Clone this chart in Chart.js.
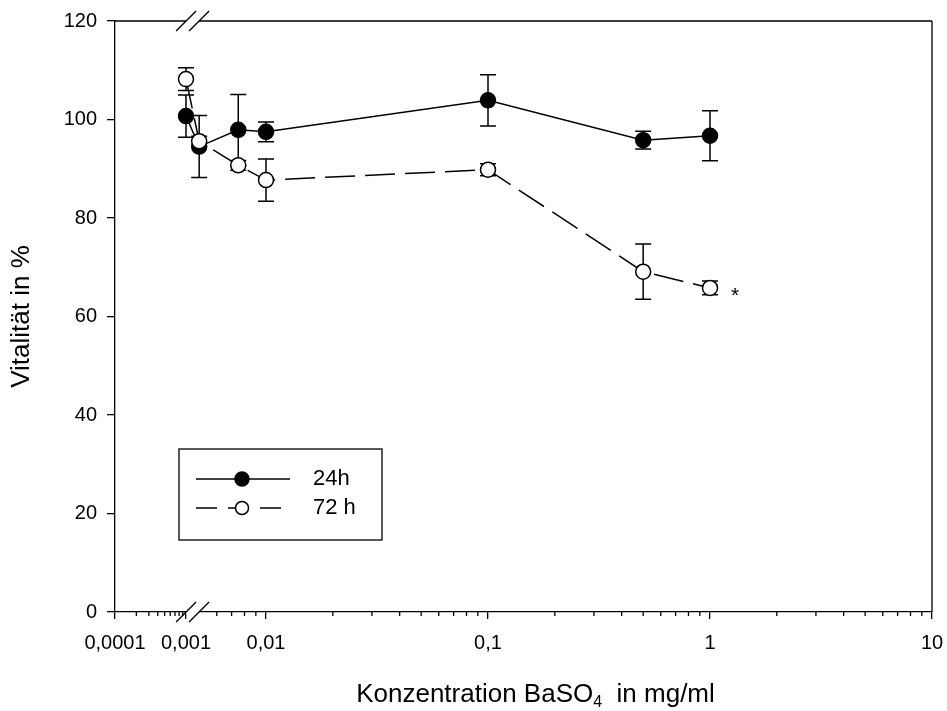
<!DOCTYPE html>
<html>
<head>
<meta charset="utf-8">
<script src="https://cdn.jsdelivr.net/npm/chart.js@4.4.1/dist/chart.umd.min.js"></script>
<style>
  body { margin: 0; background: #fff; }
  canvas { display: block; }
</style>
</head>
<body>
<canvas id="chart" width="947" height="711"></canvas>
<script>
// concentrations in mg/ml
const concentrations = [0.001, 0.005, 0.0075, 0.01, 0.1, 0.5, 1];

// Vitalität in % (mean) and error
const vital24 = [100.7, 94.5, 97.9, 97.5, 103.9, 95.8, 96.7];
const err24 = [4.3, 6.3, 7.2, 2.0, 5.2, 1.8, 5.1];
const vital72 = [108.2, 95.6, 90.7, 87.7, 89.8, 69.1, 65.8];
const err72 = [2.3, 1.0, 1.0, 4.3, 1.2, 5.6, 1.4];

const xTickValues = [0.0001, 0.001, 0.01, 0.1, 1, 10];
const xTickLabels = ['0,0001', '0,001', '0,01', '0,1', '1', '10'];
const xMinorTicks = [0.0002, 0.0003, 0.0004, 0.0005, 0.0006, 0.0007, 0.0008, 0.0009,
  0.006, 0.007, 0.008, 0.009,
  0.02, 0.03, 0.04, 0.05, 0.06, 0.07, 0.08, 0.09,
  0.2, 0.3, 0.4, 0.5, 0.6, 0.7, 0.8, 0.9,
  2, 3, 4, 5, 6, 7, 8, 9];

const seriesLabels = ['24h', '72 h'];
const FONT = '"Liberation Sans", Arial, sans-serif';

// log axis with a break: one short decade 0.0001-0.001, then 0.01-10 normal
const LEFT_DECADE = 71 / 817;
const RIGHT_DECADE = 222 / 817;
const BREAK_AT = 0.002;

function toFrac(v) {
  if (v <= BREAK_AT) return LEFT_DECADE * Math.log10(v / 0.0001);
  return 1 - RIGHT_DECADE * Math.log10(10 / v);
}
function fromFrac(f) {
  if (f <= LEFT_DECADE) return 0.0001 * Math.pow(10, f / LEFT_DECADE);
  return 10 / Math.pow(10, (1 - f) / RIGHT_DECADE);
}

class BrokenLogScale extends Chart.LogarithmicScale {
  getPixelForValue(value) {
    return this.getPixelForDecimal(toFrac(value));
  }
  getValueForPixel(pixel) {
    return fromFrac(this.getDecimalForPixel(pixel));
  }
}
BrokenLogScale.id = 'brokenLog';
BrokenLogScale.defaults = Chart.LogarithmicScale.defaults;
Chart.register(BrokenLogScale);

const errorBars = {
  id: 'errorBars',
  beforeDatasetsDraw(chart) {
    const ctx = chart.ctx;
    const y = chart.scales.y;
    const errs = [err24, err72];
    const vals = [vital24, vital72];
    ctx.save();
    ctx.strokeStyle = '#000';
    ctx.lineWidth = 1.5;
    chart.data.datasets.forEach((ds, di) => {
      const meta = chart.getDatasetMeta(di);
      meta.data.forEach((pt, i) => {
        const top = y.getPixelForValue(vals[di][i] + errs[di][i]);
        const bot = y.getPixelForValue(vals[di][i] - errs[di][i]);
        ctx.beginPath();
        ctx.moveTo(pt.x, top); ctx.lineTo(pt.x, bot);
        ctx.moveTo(pt.x - 8, top); ctx.lineTo(pt.x + 8, top);
        ctx.moveTo(pt.x - 8, bot); ctx.lineTo(pt.x + 8, bot);
        ctx.stroke();
      });
    });
    ctx.restore();
  }
};

const frame = {
  id: 'frame',
  afterDraw(chart) {
    const ctx = chart.ctx;
    const a = chart.chartArea;
    const x = chart.scales.x;
    ctx.save();
    ctx.strokeStyle = '#000';
    ctx.lineWidth = 1.3;
    // top and right border
    ctx.beginPath();
    ctx.moveTo(a.left, a.top); ctx.lineTo(a.right, a.top);
    ctx.moveTo(a.right, a.top); ctx.lineTo(a.right, a.bottom);
    ctx.stroke();
    // minor ticks
    ctx.beginPath();
    xMinorTicks.forEach(v => {
      const px = x.getPixelForValue(v);
      ctx.moveTo(px, a.bottom); ctx.lineTo(px, a.bottom + 4);
    });
    ctx.stroke();
    // axis break
    const bx = (x.getPixelForValue(0.001) + x.getPixelForValue(0.005)) / 2;
    [a.top, a.bottom].forEach(yy => {
      ctx.fillStyle = '#fff';
      ctx.fillRect(bx - 6.5, yy - 2, 13, 4);
      ctx.beginPath();
      [bx - 6.5, bx + 6.5].forEach(cx => {
        ctx.moveTo(cx - 10, yy + 10); ctx.lineTo(cx + 10, yy - 10);
      });
      ctx.stroke();
    });
    // asterisk next to last 72 h point
    const m72 = chart.getDatasetMeta(1);
    const last = m72.data[m72.data.length - 1];
    ctx.fillStyle = '#000';
    ctx.font = '21px ' + FONT;
    ctx.textAlign = 'center';
    ctx.textBaseline = 'middle';
    ctx.fillText('*', last.x + 25, last.y + 8);
    // x axis title with subscript
    ctx.font = '26px ' + FONT;
    ctx.textAlign = 'left';
    ctx.textBaseline = 'alphabetic';
    const p1 = 'Konzentration BaSO', p2 = '4', p3 = '  in mg/ml';
    const w1 = ctx.measureText(p1).width, w3 = ctx.measureText(p3).width;
    ctx.font = '16px ' + FONT;
    const w2 = ctx.measureText(p2).width;
    const tx = (a.left + a.right) / 2 + 12 - (w1 + w2 + w3) / 2;
    const ty = 702;
    ctx.font = '26px ' + FONT;
    ctx.fillText(p1, tx, ty);
    ctx.font = '16px ' + FONT;
    ctx.fillText(p2, tx + w1, ty + 5);
    ctx.font = '26px ' + FONT;
    ctx.fillText(p3, tx + w1 + w2, ty);
    ctx.restore();
  }
};

const boxLegend = {
  id: 'boxLegend',
  afterDraw(chart) {
    const ctx = chart.ctx;
    ctx.save();
    ctx.strokeStyle = '#000';
    ctx.lineWidth = 1.3;
    ctx.strokeRect(179, 449, 203, 91);
    chart.data.datasets.forEach((ds, i) => {
      const yy = 479 + i * 29;
      ctx.beginPath();
      ctx.lineWidth = ds.borderWidth;
      ctx.setLineDash(ds.borderDash ? [21, 11] : []);
      ctx.moveTo(196, yy); ctx.lineTo(290, yy);
      ctx.stroke();
      ctx.setLineDash([]);
      ctx.beginPath();
      ctx.arc(242, yy, i === 0 ? 7 : 6.5, 0, Math.PI * 2);
      ctx.fillStyle = ds.pointBackgroundColor;
      ctx.fill();
      ctx.stroke();
      ctx.fillStyle = '#000';
      ctx.font = '22px ' + FONT;
      ctx.textBaseline = 'middle';
      ctx.fillText(seriesLabels[i], 313, yy);
    });
    ctx.restore();
  }
};

new Chart(document.getElementById('chart'), {
  type: 'line',
  data: {
    labels: concentrations,
    datasets: [{
      label: seriesLabels[0],
      data: concentrations.map((c, i) => ({ x: c, y: vital24[i] })),
      borderColor: '#000',
      borderWidth: 1.5,
      pointRadius: 7.5,
      pointBackgroundColor: '#000',
      pointBorderColor: '#000',
      pointBorderWidth: 1.5,
      order: 2
    }, {
      label: seriesLabels[1],
      data: concentrations.map((c, i) => ({ x: c, y: vital72[i] })),
      borderColor: '#000',
      borderWidth: 1.5,
      borderDash: [30, 10],
      pointRadius: 7.5,
      pointBackgroundColor: '#fff',
      pointBorderColor: '#000',
      pointBorderWidth: 1.5,
      order: 1
    }]
  },
  options: {
    responsive: false,
    animation: false,
    layout: { padding: { top: 21, right: 15, left: 0, bottom: 0 } },
    plugins: { legend: { display: false }, tooltip: { enabled: false } },
    scales: {
      x: {
        type: 'brokenLog',
        min: 0.0001,
        max: 10,
        afterBuildTicks: s => { s.ticks = xTickValues.map(v => ({ value: v })); },
        afterFit: s => { s.height = 99; s.paddingLeft = 0; s.paddingRight = 0; },
        ticks: {
          autoSkip: false, maxRotation: 0, minRotation: 0,
          color: '#000', font: { family: FONT, size: 20 }, padding: 12,
          callback: (v, i) => xTickLabels[i]
        },
        grid: { drawOnChartArea: false, drawTicks: true, tickLength: 7, color: '#000', lineWidth: 1.3 },
        border: { display: true, color: '#000', width: 1.3 }
      },
      y: {
        min: 0, max: 120,
        afterFit: s => { s.width = 115; s.paddingTop = 0; s.paddingBottom = 0; },
        ticks: { stepSize: 20, color: '#000', font: { family: FONT, size: 20 }, padding: 10 },
        grid: { drawOnChartArea: false, drawTicks: true, tickLength: 8, color: '#000', lineWidth: 1.3 },
        border: { display: true, color: '#000', width: 1.3 },
        title: { display: true, text: 'Vitalität in %', color: '#000', font: { family: FONT, size: 26 }, padding: { top: 6, bottom: 0 } }
      }
    }
  },
  plugins: [errorBars, frame, boxLegend]
});
</script>
</body>
</html>
